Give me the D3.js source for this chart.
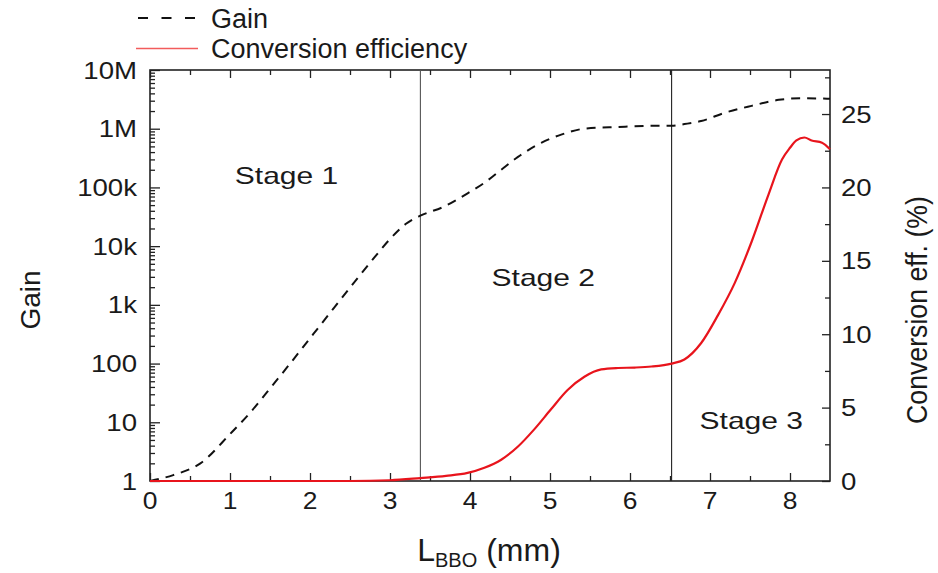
<!DOCTYPE html>
<html>
<head>
<meta charset="utf-8">
<script src="https://cdn.jsdelivr.net/npm/d3@7"></script>
<style>
  html, body { margin: 0; padding: 0; background: #fff; }
  svg { display: block; font-family: "Liberation Sans", Arial, Helvetica, sans-serif; }
</style>
</head>
<body>
<svg id="chart" width="938" height="573"></svg>
<script>
// Crystal length along the BBO (mm) and the small-signal gain (dashed curve)
const gainX = [0, 0.29, 0.63, 1.0, 1.25, 1.54, 1.71, 2.04, 2.3, 2.55, 2.8, 3.0, 3.2, 3.38, 3.67, 3.97, 4.18, 4.39, 4.6, 4.89, 5.14, 5.43, 5.85, 6.27, 6.52, 6.68, 6.89, 7.18, 7.52, 7.86, 8.15, 8.5];
const gainY = [1, 1.26, 2.0, 6.3, 14.5, 44, 85, 316, 890, 2400, 6300, 13200, 24000, 33000, 46800, 79400, 120000, 200000, 331000, 575000, 794000, 1.0e6, 1.07e6, 1.12e6, 1.12e6, 1.2e6, 1.35e6, 1.86e6, 2.45e6, 3.1e6, 3.3e6, 3.24e6];

// Conversion efficiency (%) along the same crystal length (red curve)
const effX = [0, 2.5, 3.0, 3.38, 3.7, 3.97, 4.18, 4.39, 4.6, 4.8, 5.01, 5.22, 5.43, 5.64, 5.85, 6.06, 6.27, 6.52, 6.68, 6.89, 7.1, 7.31, 7.52, 7.73, 7.9, 8.0, 8.08, 8.18, 8.27, 8.4, 8.5];
const effY = [0, 0, 0.05, 0.2, 0.35, 0.55, 0.9, 1.45, 2.35, 3.5, 4.87, 6.2, 7.1, 7.6, 7.7, 7.73, 7.8, 8.0, 8.28, 9.4, 11.3, 13.5, 16.3, 19.5, 21.9, 22.7, 23.2, 23.4, 23.2, 23.05, 22.6];

// Stage boundaries and labels
const stageBounds = [3.38, 6.52];
const stageNames = ["Stage 1", "Stage 2", "Stage 3"];
const stageAt = [[1.06, 115000], [4.27, 2100], [6.87, 7.7]]; // [x in mm, gain-axis value] of each label's left baseline

// Axis ticks
const xTicks = [0, 1, 2, 3, 4, 5, 6, 7, 8];
const gainTicks = [1, 10, 100, 1e3, 1e4, 1e5, 1e6, 1e7];
const gainTickLabels = ["1", "10", "100", "1k", "10k", "100k", "1M", "10M"];
const effTicks = [0, 5, 10, 15, 20, 25];

const svg = d3.select("#chart");
const pLeft = 150, pRight = 830, pTop = 70, pBottom = 481;

const x = d3.scaleLinear().domain([0, 8.5]).range([pLeft, pRight]);
const yG = d3.scaleLog().domain([1, 1e7]).range([pBottom, pTop]);
const yE = d3.scaleLinear().domain([0, 28]).range([pBottom, pTop]);

// Helper: text with optional horizontal stretch
function label(g, txt, px, py, size, sx, anchor) {
  return g.append("text")
    .attr("transform", `translate(${px},${py}) scale(${sx},1)`)
    .attr("font-size", size)
    .attr("fill", "#1a1a1a")
    .attr("text-anchor", anchor || "start")
    .text(txt);
}

const axes = svg.append("g");

// Bottom axis: major ticks on integers, minor on halves, pointing inward
const xMinor = d3.range(0.5, 8.5, 1);
axes.append("g").attr("transform", `translate(0,${pBottom})`)
  .call(d3.axisBottom(x).tickValues(xTicks).tickSize(-8).tickFormat(""));
axes.append("g").attr("transform", `translate(0,${pBottom})`)
  .call(d3.axisBottom(x).tickValues(xMinor).tickSize(-5).tickFormat(""));
// Top axis mirrors the bottom one
axes.append("g").attr("transform", `translate(0,${pTop})`)
  .call(d3.axisTop(x).tickValues(xTicks).tickSize(-8).tickFormat(""));
axes.append("g").attr("transform", `translate(0,${pTop})`)
  .call(d3.axisTop(x).tickValues(xMinor).tickSize(-5).tickFormat(""));

// Left log axis with decade ticks and 2..9 minor ticks
const gainMinor = [];
for (let d = 0; d < 7; d++) for (let m = 2; m <= 9; m++) gainMinor.push(m * Math.pow(10, d));
axes.append("g").attr("transform", `translate(${pLeft},0)`)
  .call(d3.axisLeft(yG).tickValues(gainTicks).tickSize(-10).tickFormat(""));
axes.append("g").attr("transform", `translate(${pLeft},0)`)
  .call(d3.axisLeft(yG).tickValues(gainMinor).tickSize(-5).tickFormat(""));

// Right linear axis for conversion efficiency
const effMinor = [2.5, 7.5, 12.5, 17.5, 22.5, 27.5];
axes.append("g").attr("transform", `translate(${pRight},0)`)
  .call(d3.axisRight(yE).tickValues(effTicks).tickSize(-8).tickFormat(""));
axes.append("g").attr("transform", `translate(${pRight},0)`)
  .call(d3.axisRight(yE).tickValues(effMinor).tickSize(-5).tickFormat(""));

axes.selectAll(".domain").remove();
axes.selectAll(".tick line").attr("stroke", "#222").attr("stroke-width", 1.3);

// Frame
svg.append("rect")
  .attr("x", pLeft).attr("y", pTop)
  .attr("width", pRight - pLeft).attr("height", pBottom - pTop)
  .attr("fill", "none").attr("stroke", "#222").attr("stroke-width", 1.6);

// Tick labels
const tl = svg.append("g");
xTicks.forEach(v => label(tl, String(v), x(v), 509, 23, 1.15, "middle"));
gainTicks.forEach((v, i) => label(tl, gainTickLabels[i], 137, yG(v) + 8.5, 23, 1.2, "end"));
effTicks.forEach(v => label(tl, String(v), 841, yE(v) + 8.5, 23, 1.2, "start"));

// Stage boundaries
svg.append("g").selectAll("line").data(stageBounds).join("line")
  .attr("x1", d => x(d)).attr("x2", d => x(d))
  .attr("y1", pTop).attr("y2", pBottom)
  .attr("stroke", (d, i) => i === 0 ? "#555" : "#222")
  .attr("stroke-width", 1.1);

// Curves
const gainLine = d3.line().x(d => x(d[0])).y(d => yG(d[1])).curve(d3.curveMonotoneX);
const effLine = d3.line().x(d => x(d[0])).y(d => yE(d[1])).curve(d3.curveMonotoneX);

svg.append("path")
  .datum(gainX.map((v, i) => [v, gainY[i]]))
  .attr("d", gainLine)
  .attr("fill", "none").attr("stroke", "#111").attr("stroke-width", 2)
  .attr("stroke-dasharray", "9,7");

svg.append("path")
  .datum(effX.map((v, i) => [v, effY[i]]))
  .attr("d", effLine)
  .attr("fill", "none").attr("stroke", "#e8141c").attr("stroke-width", 2.2);

// Stage labels
const sl = svg.append("g");
stageNames.forEach((s, i) => label(sl, s, x(stageAt[i][0]), yG(stageAt[i][1]), 24, 1.25, "start"));

// Axis titles
svg.append("text")
  .attr("transform", `translate(40,300) rotate(-90)`)
  .attr("font-size", 28).attr("fill", "#1a1a1a").attr("text-anchor", "middle")
  .text("Gain");

svg.append("text")
  .attr("transform", `translate(927,310) rotate(-90) scale(0.92,1)`)
  .attr("font-size", 29).attr("fill", "#1a1a1a").attr("text-anchor", "middle")
  .text("Conversion eff. (%)");

const xt = svg.append("text")
  .attr("transform", `translate(489,561)`)
  .attr("font-size", 32).attr("fill", "#1a1a1a").attr("text-anchor", "middle");
xt.append("tspan").text("L");
xt.append("tspan").attr("font-size", 20).attr("dy", 6).text("BBO");
xt.append("tspan").attr("dy", -6).text(" (mm)");

// Legend
const lg = svg.append("g");
lg.append("line").attr("x1", 138).attr("x2", 196).attr("y1", 18).attr("y2", 18)
  .attr("stroke", "#111").attr("stroke-width", 2).attr("stroke-dasharray", "10,13.5");
label(lg, "Gain", 211, 27.5, 27, 1.0, "start");
lg.append("line").attr("x1", 136).attr("x2", 198).attr("y1", 48.5).attr("y2", 48.5)
  .attr("stroke", "#f25c5c").attr("stroke-width", 1.6);
label(lg, "Conversion efficiency", 211, 58, 27, 1.0, "start");
</script>
</body>
</html>
